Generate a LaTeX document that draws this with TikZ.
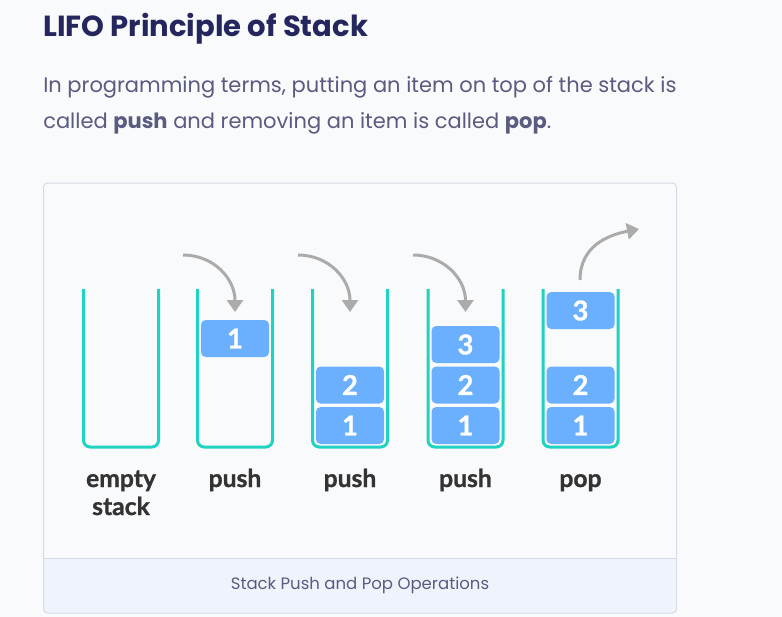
\documentclass[tikz,border=0pt]{standalone}
\usepackage{fontspec}
\setmainfont{Poppins}
\newfontfamily\latofont{Lato}[BoldFeatures={FakeBold=1}]
\usepackage{tikz}
\usetikzlibrary{arrows.meta}

\definecolor{pagebg}{HTML}{F9FAFC}
\definecolor{framegray}{HTML}{D5DCE8}
\definecolor{captionbg}{HTML}{EFF4FC}
\definecolor{titlenavy}{HTML}{25265E}
\definecolor{textgray}{HTML}{5A5B80}
\definecolor{stackteal}{HTML}{20D2C2}
\definecolor{itemblue}{HTML}{6BB0FF}
\definecolor{arrowgray}{HTML}{ABABAB}
\definecolor{labelgray}{HTML}{333333}

\tikzset{
  container/.style={draw=stackteal, line width=2.25pt, rounded corners=5pt},
  item/.style={rectangle, rounded corners=3.5pt, fill=itemblue, minimum width=51pt, minimum height=27.75pt, inner sep=0pt, text=white, font=\latofont\bfseries\fontsize{20.5}{22}\selectfont},
  oplabel/.style={anchor=base, inner sep=0pt, align=center, text=labelgray, font=\latofont\bfseries\fontsize{18.5}{21}\selectfont},
  moveto/.style={draw=arrowgray, line width=2.25pt, -{Triangle[length=9pt,width=12pt]}},
}

\begin{document}
\begin{tikzpicture}[x=0.75pt,y=0.75pt,yscale=-1,xscale=1]
\useasboundingbox (0,0) rectangle (782,617);
\fill[pagebg] (0,0) rectangle (782,617);

% Text Node
\node[anchor=base west, inner sep=0pt, text=titlenavy, font=\bfseries\fontsize{21.8}{24}\selectfont] (title) at (43,36.7) {LIFO Principle of Stack};
% Text Node (anchor base = last line)
\node[anchor=base west, inner sep=0pt, align=left, text=textgray, font=\fontsize{15.75}{27}\selectfont] (intro) at (43,128.3) {In programming terms, putting an item on top of the stack is\\called \textbf{push} and removing an item is called \textbf{pop}.};

% Frame and caption band
\fill[pagebg, rounded corners=3pt] (43.5,183) rectangle (676.5,613);
\begin{scope}
\clip (0,558) rectangle (782,617);
\fill[captionbg, rounded corners=3pt] (43.5,183) rectangle (676.5,613);
\end{scope}
\draw[framegray, line width=0.75pt] (43.5,558) -- (676.5,558);
\draw[framegray, line width=0.75pt, rounded corners=3pt] (43.5,183) rectangle (676.5,613);
% Text Node
\node[inner sep=0pt, text=textgray, font=\fontsize{12.4}{14}\selectfont] (caption) at (360,585) {Stack Push and Pop Operations};

% Containers
\draw[container] (83.5,289) -- (83.5,447) -- (158.5,447) -- (158.5,289);
\draw[container] (197.5,289) -- (197.5,447) -- (272.5,447) -- (272.5,289);
\draw[container] (312.5,289) -- (312.5,447) -- (387.5,447) -- (387.5,289);
\draw[container] (428,289) -- (428,447) -- (503,447) -- (503,289);
\draw[container] (543,289) -- (543,447) -- (618,447) -- (618,289);

% Items
\node[item] (pushA1) at (235,338.5) {1};
\node[item] (pushB1) at (350,425.5) {1};
\node[item] (pushB2) at (350,385) {2};
\node[item] (pushC1) at (465.5,425.5) {1};
\node[item] (pushC2) at (465.5,385) {2};
\node[item] (pushC3) at (465.5,344.5) {3};
\node[item] (pop1) at (580.5,425.5) {1};
\node[item] (pop2) at (580.5,385) {2};
\node[item] (pop3) at (580.5,310.5) {3};

% Labels
\node[oplabel] (lblempty) at (121,515) {empty\\stack};
\node[oplabel] (lblpushA) at (235,487) {push};
\node[oplabel] (lblpushB) at (350,487) {push};
\node[oplabel] (lblpushC) at (465.5,487) {push};
\node[oplabel] (lblpop) at (580.5,487) {pop};

% Arrows
\coordinate (inA) at (183,255);
\coordinate (inAend) at (235,312);
\coordinate (inB) at (298,255);
\coordinate (inBend) at (350,312);
\coordinate (inC) at (413,255);
\coordinate (inCend) at (465.5,312);
\coordinate (outpop) at (580,280);
\coordinate (outpopend) at (639,229);
\draw[moveto] (inA) .. controls (213,255) and (235,278) .. (inAend);
\draw[moveto] (inB) .. controls (328,255) and (350,278) .. (inBend);
\draw[moveto] (inC) .. controls (443,255) and (465.5,278) .. (inCend);
\draw[moveto] (outpop) .. controls (580,246) and (608,235) .. (outpopend);

\end{tikzpicture}
\end{document}
